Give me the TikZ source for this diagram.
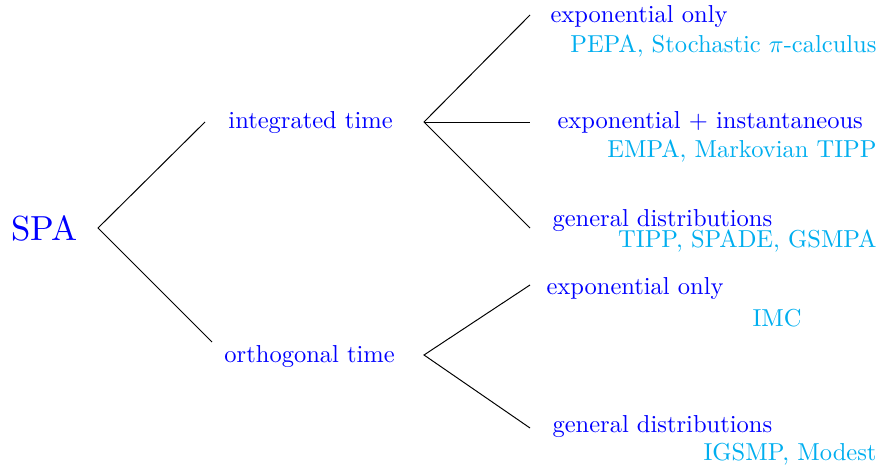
\documentclass[tikz,border=0pt]{standalone}
\usepackage{tikz}
\usepackage{graphicx}
\definecolor{catblue}{RGB}{0,0,255}
\definecolor{langcyan}{RGB}{0,174,239}
\begin{document}
\begin{tikzpicture}[x=0.408pt,y=-0.408pt,
  cat/.style={text=catblue,inner sep=0pt,anchor=base west},
  lang/.style={text=langcyan,inner sep=0pt,anchor=base east},
  branch/.style={draw=black,line width=0.4pt}]
\useasboundingbox (0,0) rectangle (880,468);
% nodes
\node[text=catblue,inner sep=0pt,anchor=base west] (spa) at (11,241) {\scalebox{1.42}{SPA}};
\node[cat] (int) at (228,129) {integrated time};
\node[cat] (orth) at (224,362) {orthogonal time};
\node[cat] (ie) at (550,23) {exponential only};
\node[lang] (iel) at (877,53) {PEPA, Stochastic $\pi$-calculus};
\node[cat] (iei) at (557,129) {exponential + instantaneous};
\node[lang] (ieil) at (877,158) {EMPA, Markovian TIPP};
\node[cat] (ig) at (552,227) {general distributions};
\node[lang] (igl) at (877,248) {TIPP, SPADE, GSMPA};
\node[cat] (oe) at (546,295) {exponential only};
\node[text=langcyan,inner sep=0pt,anchor=base] (oel) at (777,327) {IMC};
\node[cat] (og) at (552,432) {general distributions};
\node[lang] (ogl) at (877,460) {IGSMP, Modest};
% junction coordinates
\coordinate (spaJ) at (98,228);
\coordinate (intIn) at (205,122);
\coordinate (orthIn) at (212,342);
\coordinate (intJ) at (424,122);
\coordinate (ieIn) at (530,15);
\coordinate (ieiIn) at (530,122);
\coordinate (igIn) at (530,228);
\coordinate (orthJ) at (424,355);
\coordinate (oeIn) at (530,285);
\coordinate (ogIn) at (530,428);
% connectors
\draw[branch] (intIn) -- (spaJ) -- (orthIn);
\draw[branch] (ieIn) -- (intJ) -- (igIn);
\draw[branch] (intJ) -- (ieiIn);
\draw[branch] (oeIn) -- (orthJ) -- (ogIn);
\end{tikzpicture}
\end{document}
